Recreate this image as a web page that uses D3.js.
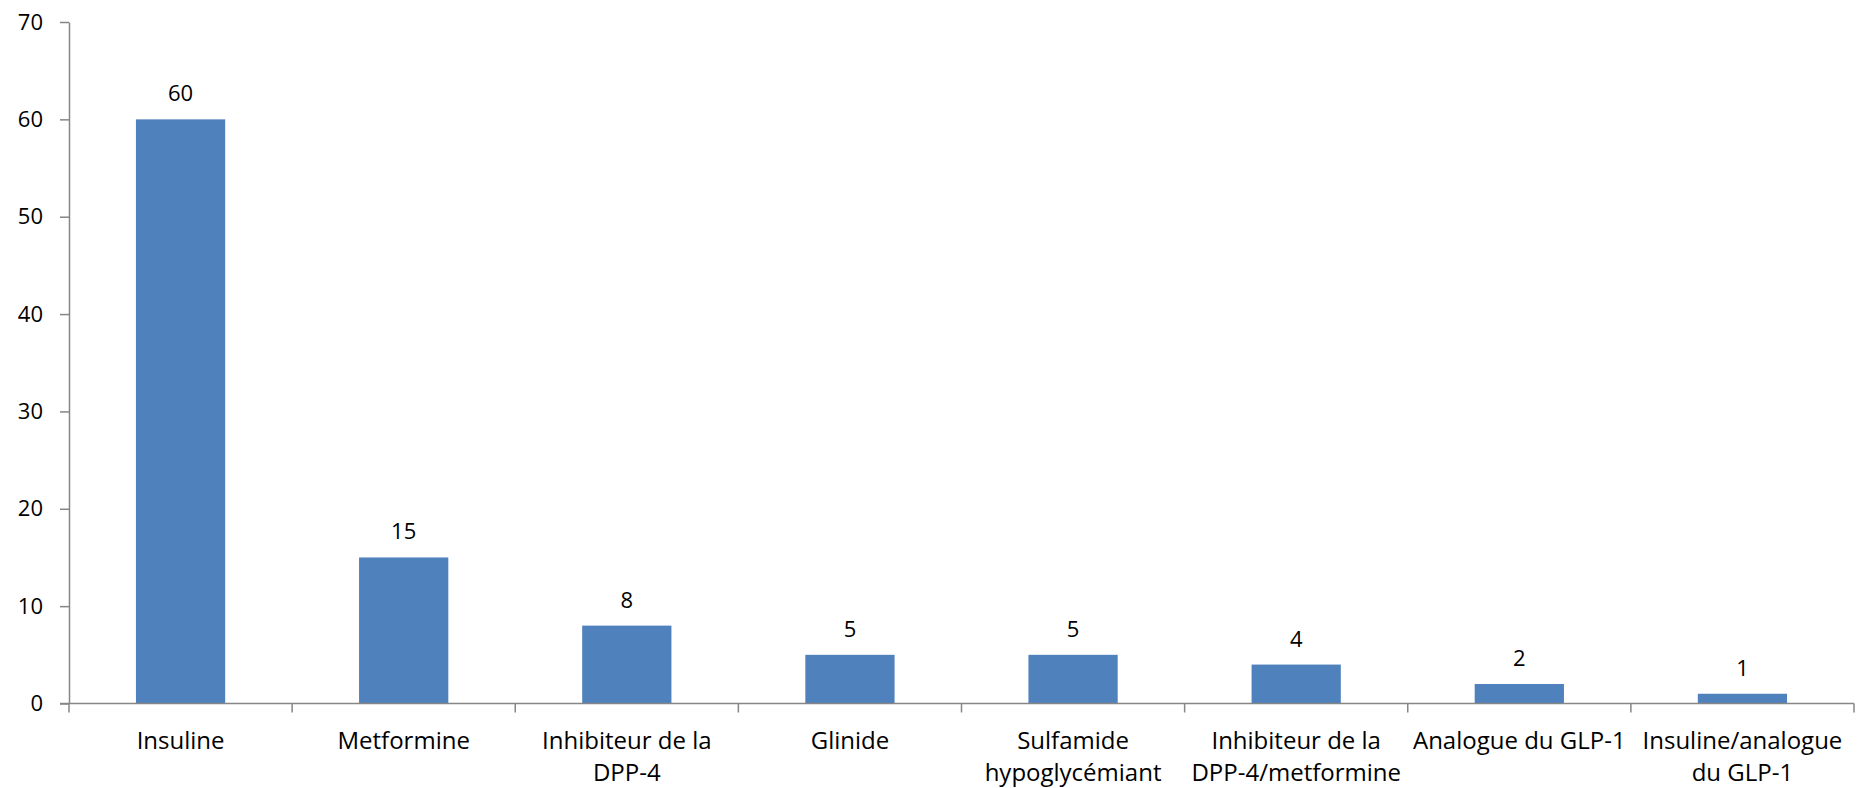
<!DOCTYPE html>
<html>
<head>
<meta charset="utf-8">
<script src="https://cdn.jsdelivr.net/npm/d3@7"></script>
<style>
  html, body { margin: 0; padding: 0; background: #fff; }
  svg { display: block; }
  text { font-family: "Open Sans", "Noto Sans", sans-serif; fill: #000; }
</style>
</head>
<body>
<script>
// Treatments (labels split over lines with "\n") and patient counts
const categories = [
  "Insuline",
  "Metformine",
  "Inhibiteur de la\nDPP-4",
  "Glinide",
  "Sulfamide\nhypoglycémiant",
  "Inhibiteur de la\nDPP-4/metformine",
  "Analogue du GLP-1",
  "Insuline/analogue\ndu GLP-1"
];
const values = [60, 15, 8, 5, 5, 4, 2, 1];
const yTicks = [0, 10, 20, 30, 40, 50, 60, 70];

const width = 1862, height = 788;
const margin = { top: 22, right: 8, bottom: 84.5, left: 69 };

const svg = d3.select("body").append("svg")
  .attr("width", width)
  .attr("height", height);

const x = d3.scaleBand()
  .domain(categories)
  .range([margin.left, width - margin.right])
  .paddingInner(0.6)
  .paddingOuter(0.3);

const y = d3.scaleLinear()
  .domain([0, 70])
  .range([height - margin.bottom, margin.top]);

const axisColor = "#868686";
const fontSize = 22;
const catFontSize = 24;

// Bars
svg.append("g").selectAll("rect")
  .data(values)
  .join("rect")
  .attr("x", (d, i) => x(categories[i]))
  .attr("y", d => y(d))
  .attr("width", x.bandwidth())
  .attr("height", d => y(0) - y(d))
  .attr("fill", "#4F81BD");

// Value labels above bars
svg.append("g").selectAll("text")
  .data(values)
  .join("text")
  .attr("x", (d, i) => x(categories[i]) + x.bandwidth() / 2)
  .attr("y", d => y(d) - 18)
  .attr("text-anchor", "middle")
  .attr("font-size", fontSize)
  .text(d => d);

// Y axis
const yAxis = d3.axisLeft(y)
  .tickValues(yTicks)
  .tickSize(9)
  .tickPadding(17)
  .tickSizeOuter(0);

const gy = svg.append("g")
  .attr("transform", `translate(${margin.left},0)`)
  .call(yAxis);
gy.select(".domain").attr("stroke", axisColor).attr("stroke-width", 1.5);
gy.selectAll(".tick line").attr("stroke", axisColor).attr("stroke-width", 1.5);
gy.selectAll(".tick text")
  .attr("font-size", fontSize)
  .attr("font-family", "'Open Sans', sans-serif")
  .attr("fill", "#000");

// X axis: tick marks at category boundaries
const x0 = margin.left, x1 = width - margin.right;
const gx = svg.append("g");
gx.append("line")
  .attr("x1", x0 - 9).attr("x2", x1)
  .attr("y1", y(0)).attr("y2", y(0))
  .attr("stroke", axisColor).attr("stroke-width", 1.5);
const bounds = d3.range(categories.length + 1).map(i => x0 + i * (x1 - x0) / categories.length);
gx.selectAll("line.tk")
  .data(bounds)
  .join("line")
  .attr("class", "tk")
  .attr("x1", d => d).attr("x2", d => d)
  .attr("y1", y(0)).attr("y2", y(0) + 9)
  .attr("stroke", axisColor).attr("stroke-width", 1.5);

// Category labels, wrapped over lines
const lab = gx.selectAll("text.cat")
  .data(categories)
  .join("text")
  .attr("class", "cat")
  .attr("text-anchor", "middle")
  .attr("font-size", catFontSize)
  .attr("transform", d => `translate(${x(d) + x.bandwidth() / 2},${y(0) + 45})`);
lab.selectAll("tspan")
  .data(d => d.split("\n"))
  .join("tspan")
  .attr("x", 0)
  .attr("y", (d, i) => i * 32)
  .text(d => d);
</script>
</body>
</html>
